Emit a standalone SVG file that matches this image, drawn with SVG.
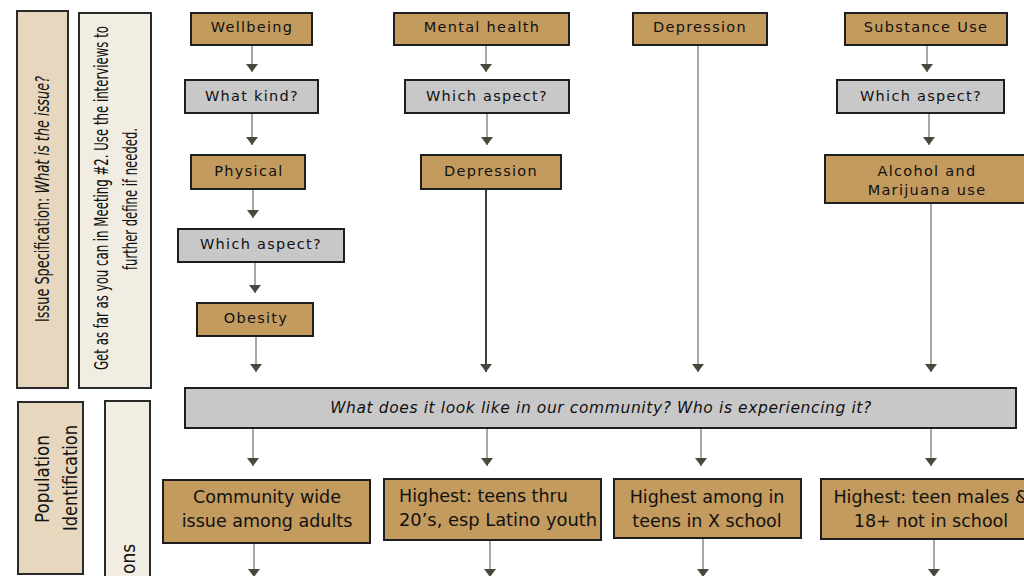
<svg xmlns="http://www.w3.org/2000/svg" width="1024" height="576" viewBox="0 0 1024 576">
<defs>
<marker id="ah" viewBox="0 0 8 12" refX="8" refY="6" markerWidth="8" markerHeight="12" markerUnits="userSpaceOnUse" orient="auto">
<path d="M0,0 L8,6 L0,12 z" fill="#454b3c"/>
</marker>
<style>
.tan{fill:#c39b5e;stroke:#1e1e1e;stroke-width:2}
.gry{fill:#c8c8c8;stroke:#1e1e1e;stroke-width:2}
.t{font-family:"DejaVu Sans",sans-serif;font-size:14.5px;letter-spacing:1.3px;fill:#111;text-anchor:middle}
.b{font-family:"DejaVu Sans",sans-serif;font-size:17.5px;fill:#111;text-anchor:middle}
.bl{font-family:"DejaVu Sans",sans-serif;font-size:17.5px;fill:#111;text-anchor:start}
.side{font-family:"DejaVu Sans Condensed","DejaVu Sans",sans-serif;font-size:19px;fill:#111;text-anchor:middle}
.c{stroke:#6e6e66;stroke-width:1.2;fill:none;marker-end:url(#ah)}
</style>
</defs>
<rect width="1024" height="576" fill="#ffffff"/>

<g id="issue-spec">
<rect x="17" y="11" width="51" height="377" fill="#e6d7be" stroke="#2a2a2a" stroke-width="2"/>
<text class="side" transform="translate(49,199) rotate(-90)" textLength="246" lengthAdjust="spacingAndGlyphs">Issue Specification: <tspan font-style="italic">What is the issue?</tspan></text>
</g>
<g id="get-as-far">
<rect x="79" y="13" width="72" height="375" fill="#f2ede3" stroke="#2a2a2a" stroke-width="2"/>
<text class="side" transform="translate(108,198) rotate(-90)" textLength="344" lengthAdjust="spacingAndGlyphs">Get as far as you can in Meeting #2. Use the interviews to</text>
<text class="side" transform="translate(137,199) rotate(-90)" textLength="142" lengthAdjust="spacingAndGlyphs">further define if needed.</text>
</g>
<g id="population-id">
<rect x="18" y="402" width="65" height="172" fill="#e6d7be" stroke="#2a2a2a" stroke-width="2"/>
<text class="side" transform="translate(49,479) rotate(-90)" textLength="88" lengthAdjust="spacingAndGlyphs">Population</text>
<text class="side" transform="translate(77,478) rotate(-90)" textLength="106" lengthAdjust="spacingAndGlyphs">Identification</text>
</g>
<g id="second-panel">
<rect x="105" y="401" width="45" height="180" fill="#f2ede3" stroke="#2a2a2a" stroke-width="2"/>
<text class="side" transform="translate(135,574) rotate(-90)" style="text-anchor:start">ons</text>
</g>

<g id="connectors">
<line class="c" x1="252" y1="46" x2="252" y2="72"/>
<line class="c" x1="252" y1="114" x2="252" y2="145"/>
<line class="c" x1="253" y1="190" x2="253" y2="218"/>
<line class="c" x1="255" y1="263" x2="255" y2="293"/>
<line class="c" x1="256" y1="337" x2="256" y2="372"/>
<line class="c" x1="486" y1="46" x2="486" y2="72"/>
<line class="c" x1="487" y1="114" x2="487" y2="145"/>
<line class="c" x1="486" y1="190" x2="486" y2="372" style="stroke:#3e4236;stroke-width:2"/>
<line class="c" x1="698" y1="46" x2="698" y2="372"/>
<line class="c" x1="927" y1="46" x2="927" y2="72"/>
<line class="c" x1="929" y1="114" x2="929" y2="145"/>
<line class="c" x1="931" y1="204" x2="931" y2="372"/>
<line class="c" x1="253" y1="429" x2="253" y2="466"/>
<line class="c" x1="487" y1="429" x2="487" y2="466"/>
<line class="c" x1="701" y1="429" x2="701" y2="466"/>
<line class="c" x1="931" y1="429" x2="931" y2="466"/>
<line class="c" x1="254" y1="544" x2="254" y2="577"/>
<line class="c" x1="490" y1="541" x2="490" y2="577"/>
<line class="c" x1="703" y1="539" x2="703" y2="577"/>
<line class="c" x1="934" y1="540" x2="934" y2="577"/>
</g>

<g id="wellbeing"><rect class="tan" x="191" y="13" width="121" height="32"/><text class="t" x="252" y="32">Wellbeing</text></g>
<g id="mental-health"><rect class="tan" x="394" y="13" width="175" height="32"/><text class="t" x="482" y="32">Mental health</text></g>
<g id="depression-top"><rect class="tan" x="633" y="13" width="134" height="32"/><text class="t" x="700" y="32">Depression</text></g>
<g id="substance-use"><rect class="tan" x="845" y="13" width="162" height="32"/><text class="t" x="926" y="32">Substance Use</text></g>

<g id="what-kind"><rect class="gry" x="185" y="80" width="133" height="33"/><text class="t" x="252" y="101">What kind?</text></g>
<g id="which-aspect-mental"><rect class="gry" x="405" y="80" width="164" height="33"/><text class="t" x="487" y="101">Which aspect?</text></g>
<g id="which-aspect-substance"><rect class="gry" x="837" y="80" width="167" height="33"/><text class="t" x="921" y="101">Which aspect?</text></g>

<g id="physical"><rect class="tan" x="191" y="155" width="114" height="34"/><text class="t" x="249" y="176">Physical</text></g>
<g id="depression-mental"><rect class="tan" x="421" y="155" width="140" height="34"/><text class="t" x="491" y="176">Depression</text></g>
<g id="alcohol"><rect class="tan" x="825" y="155" width="205" height="48"/><text class="t" x="927" y="176">Alcohol and</text><text class="t" x="927" y="195">Marijuana use</text></g>

<g id="which-aspect-physical"><rect class="gry" x="178" y="229" width="166" height="33"/><text class="t" x="261" y="249">Which aspect?</text></g>
<g id="obesity"><rect class="tan" x="197" y="303" width="116" height="33"/><text class="t" x="256" y="323">Obesity</text></g>

<g id="community-question"><rect class="gry" x="185" y="388" width="831" height="40"/><text x="601" y="413" font-family="DejaVu Sans, sans-serif" font-size="15.5" font-style="italic" fill="#111" text-anchor="middle" letter-spacing="0.6">What does it look like in our community? Who is experiencing it?</text></g>

<g id="community-wide"><rect class="tan" x="163" y="480" width="207" height="63"/><text class="b" x="267" y="503">Community wide</text><text class="b" x="267" y="527">issue among adults</text></g>
<g id="teens-latino"><rect class="tan" x="384" y="479" width="217" height="61"/><text class="bl" x="399" y="502">Highest: teens thru</text><text class="bl" x="399" y="526" textLength="198" lengthAdjust="spacingAndGlyphs">20’s, esp Latino youth</text></g>
<g id="teens-x-school"><rect class="tan" x="614" y="479" width="187" height="59"/><text class="b" x="707" y="503">Highest among in</text><text class="b" x="707" y="527">teens in X school</text></g>
<g id="teen-males"><rect class="tan" x="821" y="479" width="210" height="60"/><text class="b" x="931" y="503">Highest: teen males &amp;</text><text class="b" x="931" y="527">18+ not in school</text></g>
</svg>
